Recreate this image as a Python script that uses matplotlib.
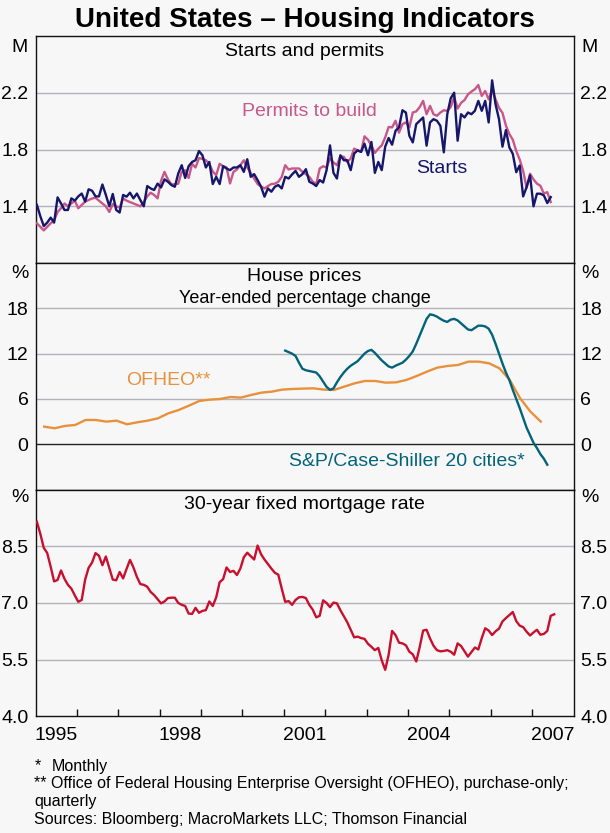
import numpy as np
import matplotlib
matplotlib.use("Agg")
import matplotlib.pyplot as plt

plt.rcParams['font.family'] = ['Liberation Sans', 'DejaVu Sans']

# ---------------- data ----------------
# Monthly, starting January 1995 (millions, annualised)
starts = [
    1.41, 1.33, 1.26, 1.285, 1.32, 1.285, 1.463, 1.42, 1.374, 1.374, 1.456, 1.44,
    1.47, 1.49, 1.433, 1.52, 1.51, 1.47, 1.47, 1.554, 1.48, 1.40, 1.487, 1.374,
    1.356, 1.48, 1.468, 1.496, 1.456, 1.49, 1.444, 1.40, 1.543, 1.526, 1.515, 1.56,
    1.533, 1.59, 1.573, 1.55, 1.538, 1.632, 1.69, 1.60, 1.683, 1.713, 1.725, 1.79,
    1.76, 1.674, 1.713, 1.557, 1.608, 1.557, 1.683, 1.667, 1.655, 1.674, 1.674, 1.69,
    1.643, 1.732, 1.608, 1.627, 1.585, 1.538, 1.468, 1.526, 1.503, 1.538, 1.55, 1.526,
    1.608, 1.596, 1.625, 1.65, 1.608, 1.627, 1.662, 1.573, 1.561, 1.543, 1.585, 1.568,
    1.655, 1.83, 1.636, 1.596, 1.76, 1.725, 1.725, 1.655, 1.772, 1.795, 1.784, 1.842,
    1.76, 1.854, 1.636, 1.713, 1.655, 1.821, 1.882, 1.835, 1.933, 1.957, 2.078, 2.062,
    1.898, 1.851, 1.98, 2.004, 2.027, 1.828, 1.992, 2.015, 2.004, 1.968, 1.781, 2.05,
    2.163, 2.202, 1.863, 2.05, 2.027, 2.062, 2.05, 2.074, 2.144, 2.074, 2.144, 1.992,
    2.289, 2.12, 2.015, 1.821, 1.938, 1.816, 1.77, 1.641, 1.688, 1.47, 1.536, 1.618,
    1.40, 1.489, 1.489, 1.477, 1.423, 1.465,
]
permits = [
    1.28, 1.255, 1.23, 1.255, 1.28, 1.30, 1.36, 1.386, 1.42, 1.40, 1.42, 1.44,
    1.386, 1.41, 1.433, 1.444, 1.455, 1.46, 1.44, 1.42, 1.40, 1.36, 1.416, 1.40,
    1.39, 1.456, 1.44, 1.43, 1.42, 1.41, 1.40, 1.43, 1.47, 1.496, 1.48, 1.456,
    1.58, 1.643, 1.59, 1.555, 1.555, 1.56, 1.643, 1.655, 1.60, 1.70, 1.674, 1.74,
    1.735, 1.725, 1.70, 1.645, 1.62, 1.70, 1.683, 1.674, 1.561, 1.643, 1.66, 1.69,
    1.725, 1.674, 1.636, 1.596, 1.557, 1.54, 1.526, 1.543, 1.557, 1.56, 1.573, 1.608,
    1.69, 1.66, 1.667, 1.667, 1.667, 1.643, 1.627, 1.608, 1.573, 1.557, 1.667, 1.683,
    1.674, 1.737, 1.71, 1.69, 1.753, 1.749, 1.713, 1.737, 1.807, 1.795, 1.784, 1.894,
    1.87, 1.83, 1.777, 1.807, 1.83, 1.887, 1.96, 1.957, 2.004, 1.92, 1.98, 1.992,
    1.957, 2.062, 2.07, 2.10, 2.144, 2.05, 2.109, 2.05, 2.039, 2.062, 2.078, 2.074,
    2.10, 2.172, 2.09, 2.13, 2.15, 2.19, 2.21, 2.226, 2.256, 2.179, 2.214, 2.155,
    2.219, 2.155, 2.095, 2.06, 1.97, 1.91, 1.87, 1.79, 1.73, 1.65, 1.53, 1.63,
    1.59, 1.56, 1.545, 1.49, 1.50, 1.43,
]
# Quarterly, starting Q1 1995 (year-ended % change)
ofheo = [
    2.34, 2.12, 2.43, 2.56, 3.22, 3.22, 3.0, 3.13, 2.65, 2.91, 3.13, 3.44,
    4.1, 4.54, 5.12, 5.74, 5.91, 6.0, 6.26, 6.18, 6.53, 6.84, 6.97, 7.24,
    7.32, 7.37, 7.41, 7.24, 7.19, 7.63, 8.07, 8.38, 8.38, 8.16, 8.2, 8.51,
    9.04, 9.62, 10.15, 10.37, 10.5, 10.94, 10.94, 10.72, 10.06, 8.51, 6.09, 4.32,
    3.0,
]
# Monthly, starting January 2001 (year-ended % change)
case_shiller = [
    12.4, 12.2, 12.0, 11.7, 10.8, 10.0, 9.8, 9.7, 9.6, 9.5, 9.0, 8.3,
    7.6, 7.2, 7.4, 8.2, 8.9, 9.5, 10.0, 10.4, 10.7, 11.0, 11.5, 12.0,
    12.35, 12.5, 12.1, 11.6, 11.1, 10.7, 10.3, 10.15, 10.4, 10.6, 10.8, 11.2,
    11.7, 12.3, 13.3, 14.4, 15.5, 16.6, 17.2, 17.1, 16.9, 16.6, 16.35, 16.2,
    16.5, 16.6, 16.4, 16.0, 15.6, 15.2, 15.1, 15.4, 15.7, 15.7, 15.6, 15.3,
    14.5, 13.3, 12.0, 10.7, 9.5, 8.5, 7.2, 6.0, 4.8, 3.5, 2.2, 1.2,
    0.2, -0.5, -1.3, -1.9, -2.7,
]
# Monthly, starting January 1995 (per cent)
mortgage = [
    9.15, 8.83, 8.46, 8.32, 7.96, 7.57, 7.61, 7.86, 7.64, 7.48, 7.38, 7.20,
    7.03, 7.08, 7.62, 7.93, 8.07, 8.32, 8.25, 8.00, 8.23, 7.92, 7.62, 7.60,
    7.82, 7.65, 7.90, 8.14, 7.94, 7.69, 7.50, 7.48, 7.43, 7.29, 7.21, 7.10,
    6.99, 7.04, 7.13, 7.14, 7.14, 7.00, 6.95, 6.92, 6.72, 6.71, 6.87, 6.74,
    6.79, 6.81, 7.04, 6.92, 7.15, 7.55, 7.63, 7.94, 7.82, 7.85, 7.74, 7.91,
    8.21, 8.33, 8.24, 8.15, 8.52, 8.29, 8.15, 8.03, 7.91, 7.80, 7.75, 7.38,
    7.03, 7.05, 6.95, 7.08, 7.15, 7.16, 7.13, 6.95, 6.82, 6.62, 6.66, 7.07,
    7.00, 6.89, 7.01, 6.99, 6.81, 6.65, 6.49, 6.29, 6.09, 6.11, 6.07, 6.05,
    5.92, 5.84, 5.75, 5.81, 5.48, 5.23, 5.63, 6.26, 6.15, 5.95, 5.93, 5.88,
    5.71, 5.64, 5.45, 5.83, 6.27, 6.29, 6.06, 5.87, 5.75, 5.72, 5.73, 5.75,
    5.71, 5.63, 5.93, 5.86, 5.72, 5.58, 5.70, 5.82, 5.77, 6.07, 6.33, 6.27,
    6.15, 6.25, 6.32, 6.51, 6.60, 6.68, 6.76, 6.52, 6.40, 6.36, 6.24, 6.14,
    6.22, 6.29, 6.16, 6.18, 6.26, 6.66, 6.70,
]

year_labels = ['1995', '1998', '2001', '2004', '2007']
ticks_top = [1.4, 1.8, 2.2]
ticks_mid = [0, 6, 12, 18]
ticks_bot = [4.0, 5.5, 7.0, 8.5]

# ---------------- helpers ----------------
def monthly_t(first_year, n):
    return first_year + (np.arange(n) + 0.4) / 12.0

def quarterly_t(first_year, n):
    return first_year + np.arange(n) / 4.0 + 0.21

BG = '#f7f7f7'
GRID = '#b3b3bb'
C_START = '#16166a'
C_PERM = '#c8578a'
C_OFH = '#e8913c'
C_CS = '#02637a'
C_MORT = '#c8102e'
FS = 14

W_PX, H_PX = 610, 833
fig = plt.figure(figsize=(W_PX / 100, H_PX / 100), dpi=100, facecolor=BG)

left_px, right_px = 35.5, 573.5
top_px, bot_px = 36.3, 716.3
ph = (bot_px - top_px) / 3.0

axes = []
for i in range(3):
    y0 = top_px + i * ph
    ax = fig.add_axes([left_px / W_PX, 1 - (y0 + ph) / H_PX,
                       (right_px - left_px) / W_PX, ph / H_PX])
    ax.set_facecolor(BG)
    ax.set_xlim(1995, 2008)
    for s in ax.spines.values():
        s.set_color('#111111')
        s.set_linewidth(1.0)
    ax.tick_params(axis='y', length=0, labelsize=FS, pad=5,
                   labelleft=True, labelright=True)
    axes.append(ax)

ax1, ax2, ax3 = axes

def setup_y(ax, lo, hi, ticks, fmt, grid_vals, zero=None):
    ax.set_ylim(lo, hi)
    ax.set_yticks(ticks)
    ax.set_yticklabels([fmt.format(v) for v in ticks])
    for v in grid_vals:
        ax.axhline(v, color=GRID, lw=1.0, zorder=1)
    if zero is not None:
        ax.axhline(zero, color='#222222', lw=1.0, zorder=1)

setup_y(ax1, 1.0, 2.6, ticks_top, '{:.1f}', ticks_top)
setup_y(ax2, -6, 24, ticks_mid, '{:d}', [6, 12, 18], zero=0)
setup_y(ax3, 4.0, 10.0, ticks_bot, '{:.1f}', [5.5, 7.0, 8.5])

for ax in (ax1, ax2):
    ax.set_xticks([])

years = np.arange(1996, 2008)
ax3.set_xticks(years)
ax3.set_xticklabels([''] * len(years))
ax3.tick_params(axis='x', which='major', direction='in', length=5, width=1,
                color='#111111')
mids = [int(y) + 0.5 for y in year_labels]
ax3.set_xticks(mids, minor=True)
ax3.set_xticklabels(year_labels, minor=True)
ax3.tick_params(axis='x', which='minor', length=0, labelsize=FS, pad=7.5)

# ---------------- lines ----------------
ax1.plot(monthly_t(1995, len(permits)), permits, color=C_PERM, lw=1.7, zorder=3)
ax1.plot(monthly_t(1995, len(starts)), starts, color=C_START, lw=1.7, zorder=4)
ax2.plot(quarterly_t(1995, len(ofheo)), ofheo, color=C_OFH, lw=1.7, zorder=3)
ax2.plot(monthly_t(2001, len(case_shiller)), case_shiller, color=C_CS, lw=1.7, zorder=4)
ax3.plot(monthly_t(1995, len(mortgage)), mortgage, color=C_MORT, lw=1.7, zorder=3)

# ---------------- texts ----------------
def panel_text(ax, dy_px, s, size=FS):
    ax.text(0.5, 1 - dy_px / ph, s, transform=ax.transAxes, ha='center',
            va='center', fontsize=size, color='black')

panel_text(ax1, 15, 'Starts and permits')
panel_text(ax2, 14, 'House prices')
panel_text(ax2, 35.5, 'Year-ended percentage change', size=13)
panel_text(ax3, 15, '30-year fixed mortgage rate')

def units(ax, dy_px, s):
    y = 1 - dy_px / ph
    ax.text(-16 / (right_px - left_px), y, s, transform=ax.transAxes,
            ha='center', va='center', fontsize=FS)
    ax.text(1 + 16 / (right_px - left_px), y, s, transform=ax.transAxes,
            ha='center', va='center', fontsize=FS)

units(ax1, 11, 'M')
units(ax2, 11, '%')
units(ax3, 8, '%')

ax1.text(2001.61, 2.07, 'Permits to build', color=C_PERM, fontsize=FS,
         ha='center', va='center')
ax1.text(2004.81, 1.67, 'Starts', color=C_START, fontsize=FS,
         ha='center', va='center')
ax2.text(1998.2, 8.5, 'OFHEO**', color=C_OFH, fontsize=FS,
         ha='center', va='center')
ax2.text(2003.98, -2.3, 'S&P/Case-Shiller 20 cities*', color=C_CS, fontsize=FS,
         ha='center', va='center')

fig.text(0.5, 1 - 27 / H_PX, 'United States \u2013 Housing Indicators',
         ha='center', va='baseline', fontsize=20, fontweight='bold')

FN = 11.5
x0 = 34.5 / W_PX
x1 = 51.5 / W_PX
fig.text(x0, 1 - 766 / H_PX, '*', fontsize=FN, va='center')
fig.text(x1, 1 - 766 / H_PX, 'Monthly', fontsize=FN, va='center')
fig.text(x0, 1 - 783.5 / H_PX,
         '** Office of Federal Housing Enterprise Oversight (OFHEO), purchase-only;',
         fontsize=FN, va='center')
fig.text(x0, 1 - 801.5 / H_PX, 'quarterly', fontsize=FN, va='center')
fig.text(x0, 1 - 819.5 / H_PX,
         'Sources: Bloomberg; MacroMarkets LLC; Thomson Financial',
         fontsize=FN, va='center')

fig.savefig('out.png', dpi=100, facecolor=BG)
